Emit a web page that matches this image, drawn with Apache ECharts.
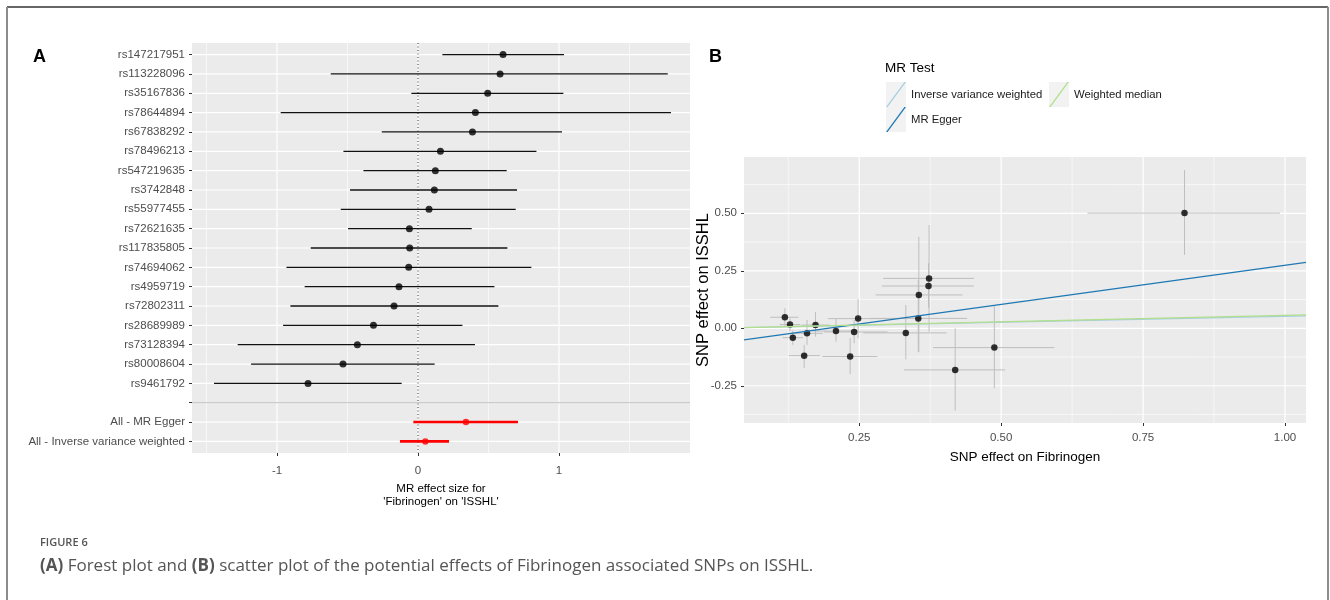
<!DOCTYPE html>
<html>
<head>
<meta charset="utf-8">
<title>Figure 6</title>
<script src="https://cdn.jsdelivr.net/npm/echarts@6/dist/echarts.min.js"></script>
<style>
    html, body { margin: 0; padding: 0; background: #fff; }
    #main { width: 1330px; height: 600px; }
</style>
</head>
<body>
<div id="main"></div>
<script>
// ---- panel A : forest plot, rows from top to bottom ----
var snpNames = ['rs147217951', 'rs113228096', 'rs35167836', 'rs78644894', 'rs67838292', 'rs78496213',
    'rs547219635', 'rs3742848', 'rs55977455', 'rs72621635', 'rs117835805', 'rs74694062',
    'rs4959719', 'rs72802311', 'rs28689989', 'rs73128394', 'rs80008604', 'rs9461792'];
var snpEst = [0.603, 0.582, 0.494, 0.407, 0.386, 0.159, 0.123, 0.116, 0.078, -0.061,
    -0.059, -0.066, -0.135, -0.170, -0.316, -0.430, -0.532, -0.780];
var snpLo = [0.173, -0.619, -0.047, -0.974, -0.257, -0.529, -0.387, -0.482, -0.548, -0.496,
    -0.761, -0.933, -0.804, -0.905, -0.957, -1.279, -1.184, -1.447];
var snpHi = [1.035, 1.771, 1.031, 1.794, 1.021, 0.840, 0.629, 0.702, 0.693, 0.381,
    0.634, 0.804, 0.542, 0.570, 0.315, 0.404, 0.118, -0.116];
var sumNames = ['All - MR Egger', 'All - Inverse variance weighted'];
var sumEst = [0.340, 0.052];
var sumLo = [-0.033, -0.128];
var sumHi = [0.709, 0.220];
var forestTicks = [-1, 0, 1];
var forestMinor = [-1.5, -0.5, 0.5, 1.5];

// ---- panel B : SNP effect on Fibrinogen (x) vs on ISSHL (y) ----
var bx    = [0.119, 0.128, 0.133, 0.153, 0.158, 0.173, 0.209, 0.234, 0.241, 0.248, 0.332, 0.354, 0.355, 0.372, 0.373, 0.419, 0.488, 0.823];
var bxLo  = [0.093, 0.110, 0.115, 0.126, 0.130, 0.148, 0.168, 0.185, 0.188, 0.195, 0.257, 0.270, 0.279, 0.290, 0.292, 0.329, 0.380, 0.652];
var bxHi  = [0.143, 0.146, 0.151, 0.181, 0.186, 0.198, 0.250, 0.282, 0.300, 0.305, 0.404, 0.440, 0.432, 0.452, 0.452, 0.507, 0.594, 0.991];
var by    = [0.048, 0.016, -0.041, -0.119, -0.022, 0.014, -0.012, -0.123, -0.016, 0.042, -0.020, 0.043, 0.145, 0.184, 0.217, -0.181, -0.084, 0.501];
var byLo  = [0.007, -0.012, -0.072, -0.172, -0.072, -0.036, -0.058, -0.199, -0.065, -0.043, -0.135, -0.102, -0.104, 0.090, -0.015, -0.358, -0.261, 0.319];
var byHi  = [0.087, 0.044, -0.010, -0.072, 0.036, 0.070, 0.043, -0.043, 0.036, 0.127, 0.101, 0.210, 0.398, 0.283, 0.449, 0.000, 0.098, 0.688];
var mrMethods = ['Inverse variance weighted', 'MR Egger', 'Weighted median'];
var mrSlope = [0.052, 0.340, 0.056];
var mrIntercept = [0, -0.066, 0];
var bxTicks = [0.25, 0.50, 0.75, 1.00];
var bxMinor = [0.125, 0.375, 0.625, 0.875];
var byTicks = [-0.25, 0, 0.25, 0.50];
var byMinor = [-0.375, -0.125, 0.125, 0.375, 0.625];

var chart = echarts.init(document.getElementById('main'));
var sans = "'Liberation Sans', Arial, sans-serif";
var mrColors = ['#A6CEE3', '#1F78B4', '#B2DF8A'];

// axis ranges (ggplot panel extents)
var axA = { xmin: -1.603, xmax: 1.929, ymin: -0.6, ymax: 20.6 };
var axB = { xmin: 0.047, xmax: 1.037, ymin: -0.412, ymax: 0.745 };

var rowLabels = snpNames.concat([''], sumNames);
var rowIdx = rowLabels.map(function (d, i) { return i; });
var blankRow = snpNames.length;

var forestRows = snpNames.map(function (d, i) { return [snpEst[i], i, snpLo[i], snpHi[i]]; });
var sumRows = sumNames.map(function (d, k) { return [sumEst[k], blankRow + 1 + k, sumLo[k], sumHi[k]]; });
var snpPts = bx.map(function (d, i) { return [bx[i], by[i], bxLo[i], bxHi[i], byLo[i], byHi[i]]; });

// line renderers working through the axis scales
function vLine(stroke, width, dash) {
    return function (params, api) {
        var cs = params.coordSys;
        var x = api.coord([api.value(0), api.value(1)])[0];
        return { type: 'line', shape: { x1: x, y1: cs.y, x2: x, y2: cs.y + cs.height },
            style: { stroke: stroke, lineWidth: width, lineDash: dash || null } };
    };
}
function hLine(stroke, width) {
    return function (params, api) {
        var cs = params.coordSys;
        var y = api.coord([api.value(0), api.value(1)])[1];
        return { type: 'line', shape: { x1: cs.x, y1: y, x2: cs.x + cs.width, y2: y },
            style: { stroke: stroke, lineWidth: width } };
    };
}
function ciBar(stroke, width) {
    return function (params, api) {
        var a = api.coord([api.value(2), api.value(1)]);
        var b = api.coord([api.value(3), api.value(1)]);
        return { type: 'line', shape: { x1: a[0], y1: a[1], x2: b[0], y2: b[1] },
            style: { stroke: stroke, lineWidth: width } };
    };
}
function crossBar(params, api) {
    var c = api.coord([api.value(0), api.value(1)]);
    var l = api.coord([api.value(2), api.value(1)]);
    var r = api.coord([api.value(3), api.value(1)]);
    var b = api.coord([api.value(0), api.value(4)]);
    var t = api.coord([api.value(0), api.value(5)]);
    var st = { stroke: '#BEBEBE', lineWidth: 1 };
    return { type: 'group', children: [
        { type: 'line', shape: { x1: l[0], y1: c[1], x2: r[0], y2: c[1] }, style: st },
        { type: 'line', shape: { x1: c[0], y1: b[1], x2: c[0], y2: t[1] }, style: st }
    ] };
}

// white panel grid lines; the other coordinate is parked off the panel
function gridSeries(xi, vals, axis, park, width) {
    return {
        type: 'custom', xAxisIndex: xi, yAxisIndex: xi, z: 1, silent: true,
        renderItem: axis === 'x' ? vLine('#FFFFFF', width) : hLine('#FFFFFF', width),
        data: vals.map(function (v) { return axis === 'x' ? [v, park] : [park, v]; })
    };
}

var tickLabel = { color: '#4D4D4D', fontFamily: sans, fontSize: 11.5 };
var tickMark = { lineStyle: { color: '#333333', width: 1 }, length: 3 };
var noLine = { show: false, onZero: false };

var series = [
    gridSeries(0, forestMinor, 'x', 60, 0.6),
    gridSeries(0, forestTicks, 'x', 60, 1.2),
    gridSeries(0, rowIdx, 'y', -30, 1.2),
    gridSeries(1, bxMinor, 'x', -5, 0.6),
    gridSeries(1, bxTicks, 'x', -5, 1.2),
    gridSeries(1, byMinor, 'y', 10, 0.6),
    gridSeries(1, byTicks, 'y', 10, 1.2),
    {   // separator row
        type: 'custom', xAxisIndex: 0, yAxisIndex: 0, z: 2, silent: true,
        renderItem: hLine('#BEBEBE', 1), data: [[-30, blankRow]]
    },
    {   // null effect
        type: 'custom', xAxisIndex: 0, yAxisIndex: 0, z: 2, silent: true,
        renderItem: vLine('#333333', 1, [1, 2.5]), data: [[0, 60]]
    },
    {
        type: 'custom', xAxisIndex: 0, yAxisIndex: 0, z: 3, silent: true,
        renderItem: ciBar('#111111', 1.3), data: forestRows
    },
    {
        type: 'custom', xAxisIndex: 0, yAxisIndex: 0, z: 3, silent: true,
        renderItem: ciBar('#FF0000', 2.6), data: sumRows
    },
    {
        type: 'scatter', xAxisIndex: 0, yAxisIndex: 0, z: 4, silent: true,
        symbolSize: 7, itemStyle: { color: '#000000' }, data: forestRows
    },
    {
        type: 'scatter', xAxisIndex: 0, yAxisIndex: 0, z: 4, silent: true,
        symbolSize: 6.5, itemStyle: { color: '#FF0000' }, data: sumRows
    },
    {
        type: 'custom', xAxisIndex: 1, yAxisIndex: 1, z: 3, silent: true,
        renderItem: crossBar, data: snpPts
    },
    {
        type: 'scatter', xAxisIndex: 1, yAxisIndex: 1, z: 4, silent: true,
        symbolSize: 6.5, itemStyle: { color: '#000000' }, data: snpPts
    }
];

mrMethods.forEach(function (name, k) {
    series.push({
        type: 'line', name: name, xAxisIndex: 1, yAxisIndex: 1, z: 5, silent: true,
        showSymbol: false, clip: true,
        itemStyle: { color: mrColors[k] },
        lineStyle: { color: mrColors[k], width: 1.3 },
        data: [axB.xmin, axB.xmax].map(function (x) { return [x, mrIntercept[k] + mrSlope[k] * x]; })
    });
});

function oneLegend(name, left, top) {
    return {
        data: [name], left: left, top: top, padding: 0, orient: 'horizontal',
        selectedMode: false, itemWidth: 20, itemHeight: 25, symbolKeepAspect: false,
        icon: 'path://M0,25L1.6,25L20,0L18.4,0Z',
        textStyle: { fontFamily: sans, fontSize: 11.3, color: '#1A1A1A' }
    };
}

var option = {
    animation: false,
    backgroundColor: '#FFFFFF',
    grid: [
        { left: 192, top: 43, width: 498, height: 410, show: true, backgroundColor: '#EBEBEB', borderWidth: 0 },
        { left: 744, top: 157, width: 562, height: 266, show: true, backgroundColor: '#EBEBEB', borderWidth: 0 }
    ],
    xAxis: [
        {
            type: 'value', gridIndex: 0, position: 'bottom', min: axA.xmin, max: axA.xmax,
            splitLine: { show: false }, axisLine: noLine,
            axisTick: Object.assign({ customValues: forestTicks }, tickMark),
            axisLabel: Object.assign({ customValues: forestTicks, margin: 12 }, tickLabel),
            name: "MR effect size for\n'Fibrinogen' on 'ISSHL'",
            nameLocation: 'middle', nameGap: 29,
            nameTextStyle: { color: '#000', fontFamily: sans, fontSize: 11.5, lineHeight: 13 }
        },
        {
            type: 'value', gridIndex: 1, position: 'bottom', min: axB.xmin, max: axB.xmax,
            splitLine: { show: false }, axisLine: noLine,
            axisTick: Object.assign({ customValues: bxTicks }, tickMark),
            axisLabel: Object.assign({ customValues: bxTicks, margin: 9,
                formatter: function (v) { return v.toFixed(2); } }, tickLabel),
            name: 'SNP effect on Fibrinogen', nameLocation: 'middle', nameGap: 26,
            nameTextStyle: { color: '#000', fontFamily: sans, fontSize: 13.5, lineHeight: 16 }
        }
    ],
    yAxis: [
        {
            type: 'value', gridIndex: 0, position: 'left', inverse: true, min: axA.ymin, max: axA.ymax,
            splitLine: { show: false }, axisLine: noLine,
            axisTick: Object.assign({ customValues: rowIdx }, tickMark),
            axisLabel: Object.assign({ customValues: rowIdx, margin: 7,
                formatter: function (v) { return rowLabels[Math.round(v)]; } }, tickLabel)
        },
        {
            type: 'value', gridIndex: 1, position: 'left', min: axB.ymin, max: axB.ymax,
            splitLine: { show: false }, axisLine: noLine,
            axisTick: Object.assign({ customValues: byTicks }, tickMark),
            axisLabel: Object.assign({ customValues: byTicks, margin: 7,
                formatter: function (v) { return v.toFixed(2); } }, tickLabel),
            name: 'SNP effect on ISSHL', nameLocation: 'middle', nameGap: 32, nameRotate: 90,
            nameMoveOverlap: false,
            nameTextStyle: { color: '#000', fontFamily: sans, fontSize: 16.5 }
        }
    ],
    legend: [
        oneLegend(mrMethods[0], 886, 82),
        oneLegend(mrMethods[2], 1049, 82),
        oneLegend(mrMethods[1], 886, 107)
    ],
    graphic: [
        // figure frame
        { type: 'line', shape: { x1: 7, y1: 7, x2: 1328, y2: 7 }, style: { stroke: '#333333', lineWidth: 1.5 } },
        { type: 'line', shape: { x1: 7, y1: 7, x2: 7, y2: 600 }, style: { stroke: '#8C8C8C', lineWidth: 2 } },
        { type: 'line', shape: { x1: 1328, y1: 7, x2: 1328, y2: 600 }, style: { stroke: '#8C8C8C', lineWidth: 2 } },
        // legend key backgrounds
        { type: 'rect', z: -1, shape: { x: 886, y: 82, width: 20, height: 25 }, style: { fill: '#F2F2F2' } },
        { type: 'rect', z: -1, shape: { x: 886, y: 107, width: 20, height: 25 }, style: { fill: '#F2F2F2' } },
        { type: 'rect', z: -1, shape: { x: 1049, y: 82, width: 20, height: 25 }, style: { fill: '#F2F2F2' } },
        { type: 'text', x: 885, y: 68, style: { text: 'MR Test', fill: '#000', font: "13.5px " + sans, verticalAlign: 'middle' } },
        { type: 'text', x: 33, y: 57, style: { text: 'A', fill: '#000', font: "bold 18px " + sans, verticalAlign: 'middle' } },
        { type: 'text', x: 709, y: 57, style: { text: 'B', fill: '#000', font: "bold 18px " + sans, verticalAlign: 'middle' } },
        { type: 'text', x: 40, y: 543, style: { text: 'FIGURE 6', fill: '#555555', font: "600 11px 'Open Sans', sans-serif", verticalAlign: 'middle' } },
        {
            type: 'text', x: 40, y: 566,
            style: {
                text: '{b|(A)} Forest plot and {b|(B)} scatter plot of the potential effects of Fibrinogen associated SNPs on ISSHL.',
                fill: '#555555', font: "17px 'Open Sans', sans-serif", verticalAlign: 'middle',
                rich: { b: { fontWeight: 'bold', fontFamily: "'Open Sans', sans-serif", fontSize: 17, fill: '#555555' } }
            }
        }
    ],
    series: series
};

chart.setOption(option);
</script>
</body>
</html>
